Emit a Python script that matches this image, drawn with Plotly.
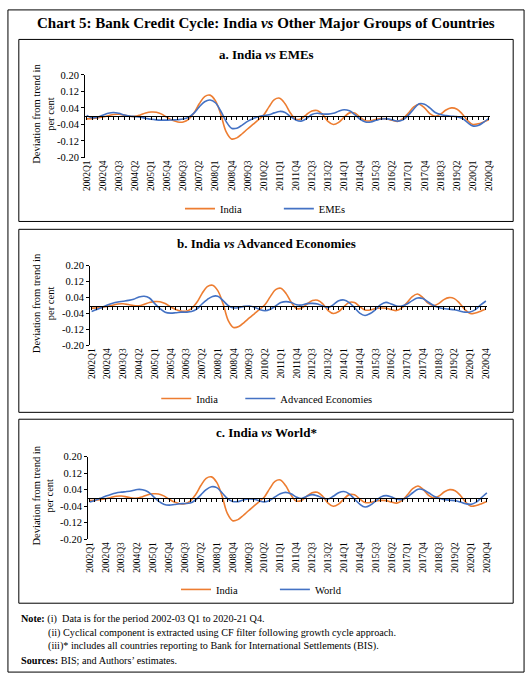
import plotly.graph_objects as go

W, H = 532, 683

quarters = [f"{y}Q{q}" for y in range(2002, 2021) for q in range(1, 5)]
tick_labels = quarters[::3]

# cyclical component, deviation from trend
india = [-0.013, -0.012, -0.009, -0.004, 0.002, 0.008, 0.009, 0.005, 0.000, -0.001,
         0.006, 0.015, 0.020, 0.019, 0.010, -0.006, -0.020, -0.028, -0.028, -0.015,
         0.015, 0.060, 0.095, 0.102, 0.075, 0.010, -0.075, -0.110, -0.105, -0.085,
         -0.062, -0.040, -0.018, 0.005, 0.045, 0.080, 0.087, 0.060, 0.015, -0.015,
         -0.012, 0.008, 0.025, 0.027, 0.008, -0.025, -0.040, -0.030, -0.005, 0.016,
         0.015, -0.005, -0.022, -0.022, -0.015, -0.012, -0.013, -0.020, -0.025, -0.012,
         0.015, 0.045, 0.058, 0.040, 0.012, 0.000, 0.010, 0.030, 0.040, 0.035,
         0.012, -0.020, -0.040, -0.037, -0.028, -0.017]

emes = [0.004, -0.008, -0.005, 0.005, 0.014, 0.018, 0.014, 0.006, 0.001, -0.002,
        -0.005, -0.010, -0.015, -0.018, -0.019, -0.019, -0.018, -0.017, -0.014, -0.005,
        0.015, 0.045, 0.070, 0.078, 0.065, 0.025, -0.025, -0.058, -0.058, -0.043,
        -0.025, -0.012, -0.003, 0.003, 0.007, 0.016, 0.023, 0.018, -0.002, -0.018,
        -0.024, -0.012, 0.008, 0.014, 0.011, 0.010, 0.014, 0.024, 0.031, 0.026,
        0.008, -0.015, -0.028, -0.028, -0.020, -0.014, -0.013, -0.018, -0.024, -0.018,
        0.005, 0.035, 0.060, 0.058, 0.040, 0.018, 0.008, 0.003, 0.000, -0.002,
        -0.010, -0.030, -0.047, -0.045, -0.030, -0.010]

advanced = [-0.030, -0.020, -0.008, 0.003, 0.012, 0.018, 0.022, 0.026, 0.032, 0.043,
            0.047, 0.038, 0.010, -0.015, -0.033, -0.038, -0.036, -0.033, -0.033, -0.030,
            -0.018, 0.008, 0.030, 0.046, 0.047, 0.025, 0.000, -0.012, -0.010, -0.004,
            -0.002, -0.008, -0.020, -0.026, -0.018, -0.002, 0.015, 0.020, 0.015, 0.004,
            0.003, 0.010, 0.011, 0.008, -0.002, -0.010, 0.005, 0.024, 0.028, 0.015,
            -0.010, -0.038, -0.050, -0.040, -0.020, 0.005, 0.016, 0.008, -0.002, -0.002,
            0.008, 0.025, 0.038, 0.035, 0.018, 0.002, -0.010, -0.015, -0.018, -0.021,
            -0.027, -0.033, -0.032, -0.020, 0.003, 0.023]

world = [-0.020, -0.012, -0.002, 0.008, 0.017, 0.024, 0.028, 0.031, 0.035, 0.041,
         0.040, 0.030, 0.008, -0.015, -0.030, -0.035, -0.032, -0.028, -0.027, -0.025,
         -0.010, 0.015, 0.040, 0.054, 0.050, 0.025, -0.002, -0.017, -0.018, -0.010,
         -0.005, -0.006, -0.014, -0.019, -0.012, 0.005, 0.020, 0.027, 0.020, 0.005,
         -0.003, 0.008, 0.016, 0.010, 0.000, -0.005, 0.008, 0.025, 0.031, 0.020,
         -0.005, -0.030, -0.044, -0.035, -0.015, 0.005, 0.011, 0.004, -0.005, -0.008,
         0.005, 0.025, 0.042, 0.040, 0.025, 0.008, -0.002, -0.008, -0.011, -0.013,
         -0.020, -0.028, -0.031, -0.020, 0.002, 0.024]

y_tickvals = [-0.20, -0.12, -0.04, 0.04, 0.12, 0.20]
y_ticktext = ["-0.20", "-0.12", "-0.04", "0.04", "0.12", "0.20"]

ORANGE = "#ED7D31"
BLUE = "#4472C4"
FONT = "Liberation Serif"


def fx(p):
    return p / W


def fy(p):
    return 1 - p / H


# box, plot area (left, top, right, bottom in px), title y,
# legend line starts (India, other) and legend row y
panels = [
    dict(label="EMEs", series=emes, title="a. India <i>vs</i> EMEs",
         box=(16, 35, 516, 220), plot=(83, 71, 493, 155), title_y=50,
         leg_x=(187, 287), leg_y=207),
    dict(label="Advanced Economies", series=advanced,
         title="b. India <i>vs</i> Advanced Economies",
         box=(16, 228, 516, 414), plot=(88, 265, 490, 346), title_y=242,
         leg_x=(163, 248), leg_y=400),
    dict(label="World", series=world, title="c. India <i>vs</i> World*",
         box=(16, 421, 516, 608), plot=(86, 459, 491, 543), title_y=435,
         leg_x=(183, 283), leg_y=594),
]

fig = go.Figure()
shapes = []
annotations = []
layout = {}
n_leg = 0

for k, p in enumerate(panels, start=1):
    sfx = "" if k == 1 else str(k)
    l, t, r, b = p["plot"]

    for name, vals, color, lx in [("India", india, ORANGE, p["leg_x"][0]),
                                  (p["label"], p["series"], BLUE, p["leg_x"][1])]:
        n_leg += 1
        legname = "legend" if n_leg == 1 else "legend" + str(n_leg)
        fig.add_trace(go.Scatter(x=quarters, y=vals, name=name, mode="lines",
                                 line=dict(color=color, width=1.6, shape="spline"),
                                 xaxis="x" + sfx, yaxis="y" + sfx, legend=legname))
        layout[legname] = dict(
            orientation="h", x=fx(lx - 8), xanchor="left",
            y=fy(p["leg_y"]), yanchor="middle", bgcolor="rgba(0,0,0,0)",
            font=dict(family=FONT, size=10.5, color="black"))

    # carrier for the zero-line axis with category ticks
    fig.add_trace(go.Scatter(x=quarters, y=[None] * len(quarters), mode="lines",
                             showlegend=False, hoverinfo="skip",
                             xaxis="x" + str(k + 3), yaxis="y" + sfx))

    ydom = [fy(b), fy(t)]
    xdom = [fx(l), fx(r)]
    layout["xaxis" + sfx] = dict(
        domain=xdom, anchor="y" + sfx, type="category",
        categoryorder="array", categoryarray=quarters,
        range=[-0.3, 75.3], tickmode="array", tickvals=tick_labels,
        ticktext=tick_labels, tickangle=-90, showline=False, ticks="",
        showgrid=False, zeroline=False,
        tickfont=dict(family=FONT, size=9.5, color="black"))
    layout["xaxis" + str(k + 3)] = dict(
        domain=xdom, overlaying="x" + sfx, anchor="free",
        position=(ydom[0] + ydom[1]) / 2, type="category",
        categoryorder="array", categoryarray=quarters,
        range=[-0.3, 75.3], tickmode="array", tickvals=quarters,
        showticklabels=False, ticks="outside", ticklen=3, tickwidth=1,
        tickcolor="black", showline=True, linecolor="black", linewidth=1,
        showgrid=False, zeroline=False)
    layout["yaxis" + sfx] = dict(
        domain=ydom, anchor="x" + sfx, range=[-0.2, 0.2],
        tickmode="array", tickvals=y_tickvals, ticktext=y_ticktext,
        ticks="outside", ticklen=3, tickcolor="black", showline=True,
        linecolor="black", linewidth=1, showgrid=False, zeroline=False,
        tickfont=dict(family=FONT, size=10.5, color="black"))

    bx0, by0, bx1, by1 = p["box"]
    shapes.append(dict(type="rect", xref="paper", yref="paper",
                       x0=fx(bx0), x1=fx(bx1), y0=fy(by1), y1=fy(by0),
                       line=dict(color="black", width=1)))
    annotations.append(dict(text="<b>" + p["title"] + "</b>", x=fx((bx0 + bx1) / 2),
                            y=fy(p["title_y"]), xref="paper", yref="paper",
                            showarrow=False, xanchor="center", yanchor="middle",
                            font=dict(family=FONT, size=13, color="black")))
    annotations.append(dict(text="Deviation from trend in<br>per cent", textangle=-90,
                            x=fx(41), y=fy((t + b) / 2 - 2), xref="paper", yref="paper",
                            showarrow=False, xanchor="center", yanchor="middle",
                            font=dict(family=FONT, size=10.5, color="black")))

shapes.append(dict(type="rect", xref="paper", yref="paper",
                   x0=fx(5), x1=fx(527), y0=fy(678), y1=fy(5),
                   line=dict(color="black", width=1)))

annotations.append(dict(
    text="<b>Chart 5: Bank Credit Cycle: India <i>vs</i> Other Major Groups of Countries</b>",
    x=0.5, y=fy(18), xref="paper", yref="paper", showarrow=False,
    xanchor="center", yanchor="middle", font=dict(family=FONT, size=15, color="black")))

notes = [
    (16, 624, "<b>Note:</b> (i)  Data is for the period 2002-03 Q1 to 2020-21 Q4."),
    (43, 638, "(ii) Cyclical component is extracted using CF filter following growth cycle approach."),
    (43, 652, "(iii)* includes all countries reporting to Bank for International Settlements (BIS)."),
    (16, 666, "<b>Sources:</b> BIS; and Authors’ estimates."),
]
for nx, ny, txt in notes:
    annotations.append(dict(text=txt, x=fx(nx), y=fy(ny), xref="paper", yref="paper",
                            showarrow=False, xanchor="left", yanchor="middle",
                            font=dict(family=FONT, size=10.2, color="black")))

fig.update_layout(
    width=W, height=H, margin=dict(l=0, r=0, t=0, b=0),
    paper_bgcolor="white", plot_bgcolor="white",
    font=dict(family=FONT, color="black"),
    shapes=shapes, annotations=annotations, **layout)

# the page body's default 8px margin would push the 532x683 figure off the window
fig.write_html("out.html", config={"displayModeBar": False},
               post_script="document.body.style.margin = '0px';")
